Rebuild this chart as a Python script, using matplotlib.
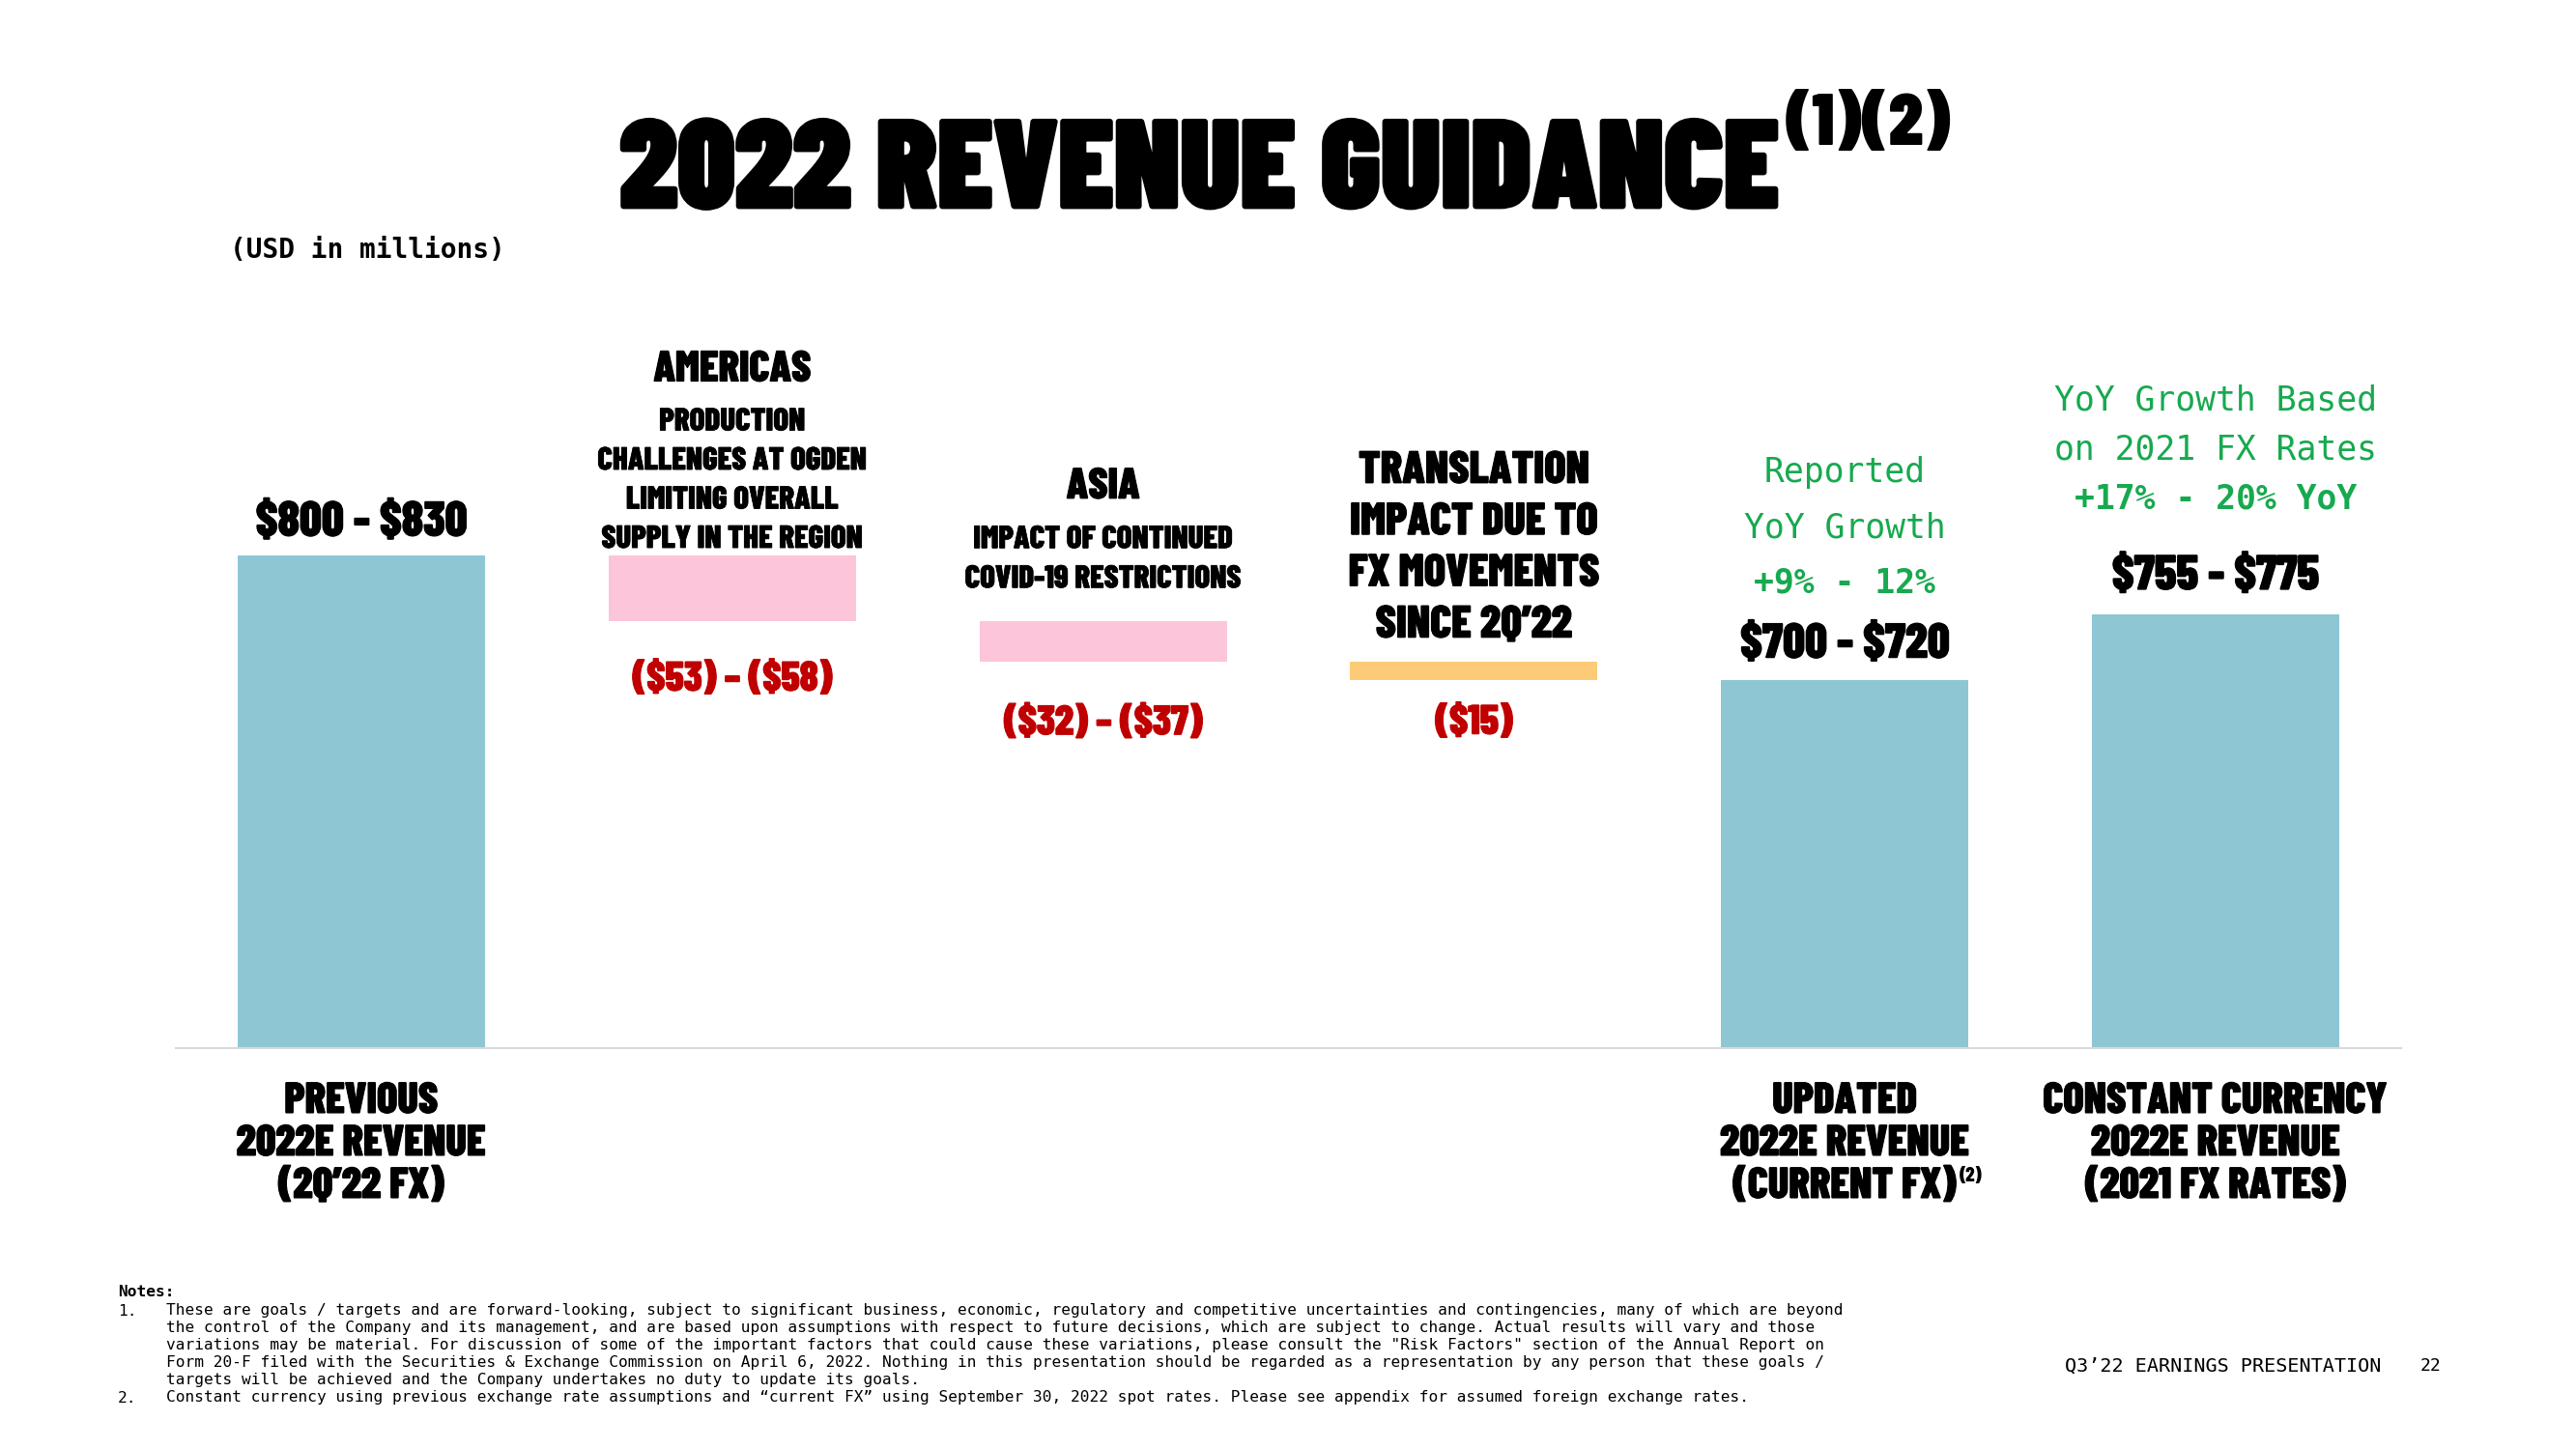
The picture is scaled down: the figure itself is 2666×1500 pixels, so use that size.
import os
import matplotlib
matplotlib.use('Agg')
import matplotlib.pyplot as plt
import matplotlib.patheffects as pe
from matplotlib import font_manager

# guidance in USD millions (midpoints of the ranges on the slide)
categories = ['Previous', 'Americas', 'Asia', 'FX', 'Updated', 'Constant']
previous_guidance = 815.0
impacts = [-55.5, -34.5, -15.0]
updated_guidance = 710.0
constant_fx_guidance = 765.0

value_labels = ['$800 - $830', '($53) – ($58)', '($32) – ($37)', '($15)',
                '$700 - $720', '$755 - $775']

americas_head = 'AMERICAS'
americas_note = ['PRODUCTION', 'CHALLENGES AT OGDEN', 'LIMITING OVERALL', 'SUPPLY IN THE REGION']
asia_head = 'ASIA'
asia_note = ['IMPACT OF CONTINUED', 'COVID-19 RESTRICTIONS']
fx_note = ['TRANSLATION', 'IMPACT DUE TO', 'FX MOVEMENTS', 'SINCE 2Q’22']
updated_growth = ['Reported', 'YoY Growth', '+9% - 12%']
constant_growth = ['YoY Growth Based', 'on 2021 FX Rates', '+17% - 20% YoY']

bottom_labels = {0: ['PREVIOUS', '2022E REVENUE', '(2Q’22 FX)'],
                 4: ['UPDATED', '2022E REVENUE', '(CURRENT FX)'],
                 5: ['CONSTANT CURRENCY', '2022E REVENUE', '(2021 FX RATES)']}

notes = [
    ('1.', 'These are goals / targets and are forward-looking, subject to significant business, economic, regulatory and competitive uncertainties and contingencies, many of which are beyond'),
    ('', 'the control of the Company and its management, and are based upon assumptions with respect to future decisions, which are subject to change. Actual results will vary and those'),
    ('', 'variations may be material. For discussion of some of the important factors that could cause these variations, please consult the "Risk Factors" section of the Annual Report on'),
    ('', 'Form 20-F filed with the Securities & Exchange Commission on April 6, 2022. Nothing in this presentation should be regarded as a representation by any person that these goals /'),
    ('', 'targets will be achieved and the Company undertakes no duty to update its goals.'),
    ('2.', 'Constant currency using previous exchange rate assumptions and “current FX” using September 30, 2022 spot rates. Please see appendix for assumed foreign exchange rates.'),
]

BLUE = '#8ec6d4'
PINK = '#fdc5d9'
ORANGE = '#fdcb77'
RED = '#c00000'
GREEN = '#17a94f'
bar_colors = [BLUE, PINK, PINK, ORANGE, BLUE, BLUE]

# the slide uses a heavy condensed display face
font_files = {os.path.splitext(os.path.basename(f.fname))[0].lower(): f.fname
              for f in font_manager.fontManager.ttflist}


def pick_font(prefs):
    for p in prefs:
        if p in font_files:
            return font_manager.FontProperties(fname=font_files[p])
    return font_manager.FontProperties(family='DejaVu Sans', weight='bold')


title_font = pick_font(['barlowcondensed-black', 'barlowcondensed-extrabold',
                        'asapcondensed-black', 'dejavusanscondensed-bold'])
label_font = pick_font(['barlowcondensed-extrabold', 'barlowcondensed-black', 'barlowcondensed-bold',
                        'asapcondensed-bold', 'dejavusanscondensed-bold'])
MONO = 'DejaVu Sans Mono'

W, H = 2666, 1500


def fx(x):
    return x / W


def fy(y):
    return 1 - y / H


def heavy(lw, color='black'):
    return [pe.withStroke(linewidth=lw, foreground=color)]


fig = plt.figure(figsize=(W / 100, H / 100), dpi=100)

# axes: baseline at y=1085px, 1.23 px per USD million, floor at 400
px_per_unit = 1.23
y_floor, y_top = 400, 1040
ax = fig.add_axes([fx(182), fy(1085), fx(2485) - fx(182), (y_top - y_floor) * px_per_unit / H])

# waterfall
tops, bottoms = [previous_guidance], [0.0]
running = previous_guidance
for d in impacts:
    tops.append(running)
    running += d
    bottoms.append(running)
tops += [updated_guidance, constant_fx_guidance]
bottoms += [0.0, 0.0]
heights = [t - b for t, b in zip(tops, bottoms)]
bar_x = list(range(len(categories)))
ax.bar(bar_x, heights, bottom=bottoms, width=0.667, color=bar_colors, zorder=2)

ax.set_xlim(-0.5, 5.5)
ax.set_ylim(y_floor, y_top)
for s in ['top', 'left', 'right']:
    ax.spines[s].set_visible(False)
ax.spines['bottom'].set_color('#d9d9d9')
ax.spines['bottom'].set_linewidth(1.5)
ax.set_xticks([])
ax.set_yticks([])

# text groups get resized so that one reference line has the width seen on the slide
groups = {}


def label(group, i, y, dy_px, s, color='black', stroke=0.8, xycoords='data'):
    kw = {}
    if stroke:
        kw['path_effects'] = heavy(stroke, color)
    fp = label_font.copy()
    fp.set_size(30)
    t = ax.annotate(s, xy=(i, y), xycoords=xycoords, xytext=(0, dy_px * 0.72),
                    textcoords='offset points', ha='center', va='center_baseline',
                    fontproperties=fp, color=color, parse_math=False,
                    annotation_clip=False, **kw)
    groups.setdefault(group, []).append(t)
    return t


def mono(i, y, dy_px, s, size, color, bold=False):
    fp = font_manager.FontProperties(family=MONO, size=size, weight='bold' if bold else 'normal')
    return ax.annotate(s, xy=(i, y), xytext=(0, dy_px * 0.72), textcoords='offset points',
                       ha='center', va='center_baseline', fontproperties=fp, color=color,
                       parse_math=False, annotation_clip=False)


# value labels
label('value', 0, tops[0], 38, value_labels[0])
label('value', 4, tops[4], 41, value_labels[4])
label('value', 5, tops[5], 44, value_labels[5])
label('red', 1, bottoms[1], -57, value_labels[1], color=RED)
label('red', 2, bottoms[2], -60, value_labels[2], color=RED)
label('red', 3, bottoms[3], -41, value_labels[3], color=RED)

# americas / asia notes
label('head', 1, tops[1], 196, americas_head)
for k, line in enumerate(reversed(americas_note)):
    label('small', 1, tops[1], 19 + 40.5 * k, line, stroke=0.5)
label('head', 2, tops[2], 143, asia_head)
for k, line in enumerate(reversed(asia_note)):
    label('small', 2, tops[2], 46 + 41 * k, line, stroke=0.5)

# fx notes
for k, line in enumerate(reversed(fx_note)):
    label('fx', 3, tops[3], 42 + 53.3 * k, line)

# growth text
for k, line in enumerate(reversed(updated_growth)):
    mono(4, tops[4], 104 + 57 * k, line, 25, GREEN, bold=(k == 0))
for k, line in enumerate(reversed(constant_growth)):
    mono(5, tops[5], 123 + 51 * k, line, 25, GREEN, bold=(k == 0))

# category labels below the axis
xform = ax.get_xaxis_transform()
last_lines = {}
for i, lines in bottom_labels.items():
    for k, line in enumerate(lines):
        last_lines[i] = label('cat', i, 0, -(51 + 44 * k), line, xycoords=xform)

# headings
fig.text(fx(238), fy(259), '(USD in millions)', fontsize=20, family=MONO, weight='bold',
         ha='left', va='center')

tfp = title_font.copy()
tfp.set_size(90)
title = fig.text(0, fy(215), '2022 REVENUE GUIDANCE', fontproperties=tfp,
                 ha='left', va='baseline', path_effects=heavy(2))
sfp = title_font.copy()
sfp.set_size(50)
title_sup = fig.text(0, fy(150), '(1)(2)', fontproperties=sfp,
                     ha='left', va='baseline')
groups['title'] = [title]
groups['sup'] = [title_sup]

# notes
fig.text(fx(122), fy(1338), 'Notes:', fontsize=11.6, family=MONO, weight='bold',
         ha='left', va='center')
for k, (num, line) in enumerate(notes):
    y = 1357 + 18 * k
    if num:
        fig.text(fx(122), fy(y), num, fontsize=11.6, family=MONO, ha='left', va='center')
    fig.text(fx(172), fy(y), line, fontsize=11.6, family=MONO, ha='left', va='center')

fig.text(fx(2137), fy(1414), 'Q3’22 EARNINGS PRESENTATION', fontsize=14.5, family=MONO,
         ha='left', va='center')
fig.text(fx(2526), fy(1414), '22', fontsize=13, family=MONO, ha='right', va='center')

# reference line and its width (px) as measured on the slide
target_width = {'title': ('2022 REVENUE GUIDANCE', 1200),
                'sup': ('(1)(2)', 172),
                'value': ('$800 - $830', 219),
                'red': ('($53) – ($58)', 207),
                'head': ('AMERICAS', 163),
                'small': ('CHALLENGES AT OGDEN', 279),
                'fx': ('FX MOVEMENTS', 260),
                'cat': ('CONSTANT CURRENCY', 357)}

fig.canvas.draw()
r = fig.canvas.get_renderer()
for g, (ref_text, width) in target_width.items():
    ref = [t for t in groups[g] if t.get_text() == ref_text][0]
    scale = width / ref.get_window_extent(r).width
    for t in groups[g]:
        t.set_fontsize(t.get_fontsize() * scale)

# center title + superscript
fig.canvas.draw()
tw = title.get_window_extent(r).width
sw = title_sup.get_window_extent(r).width
x0 = 1330 - (tw + sw + 6) / 2
title.set_x(fx(x0))
title_sup.set_x(fx(x0 + tw + 6))

bb = last_lines[4].get_window_extent(r)
sup2 = label_font.copy()
sup2.set_size(15)
fig.text(bb.x1 / W + 0.001, bb.y1 / H, '(2)', fontproperties=sup2, ha='left', va='top')

fig.savefig('out.png', dpi=100)
